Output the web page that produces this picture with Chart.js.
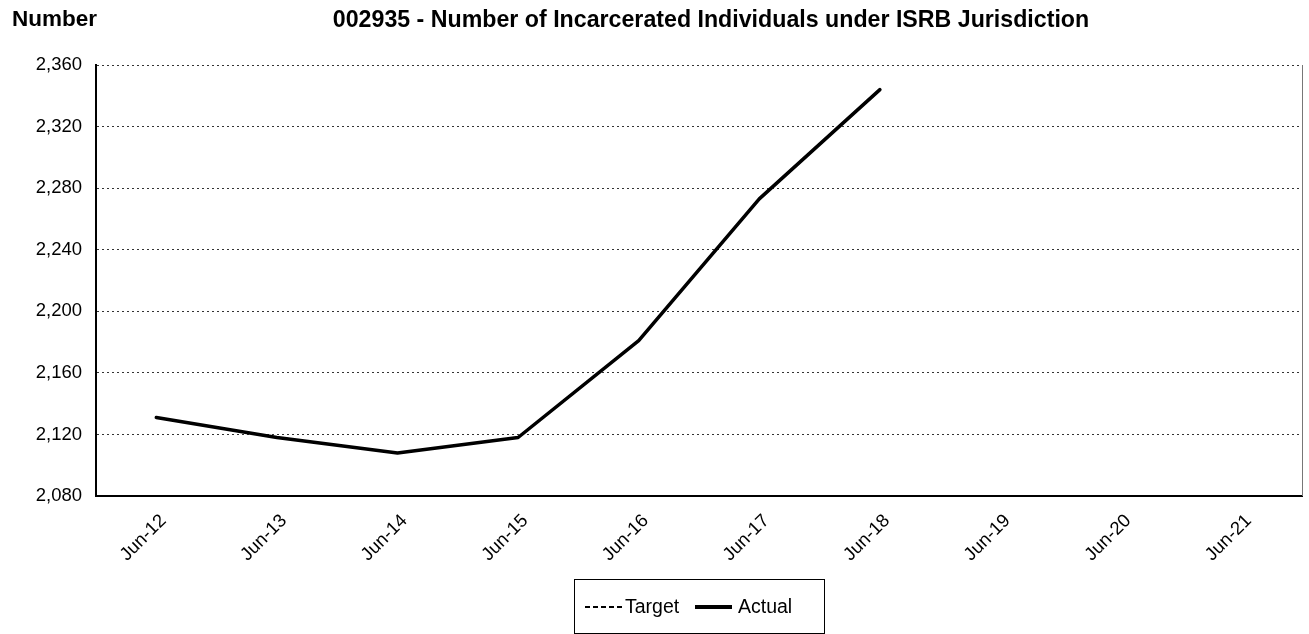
<!DOCTYPE html>
<html>
<head>
<meta charset="utf-8">
<script src="https://cdn.jsdelivr.net/npm/chart.js@4"></script>
<style>
  html, body { margin:0; padding:0; background:#fff; }
  #wrap { position:relative; width:1309px; height:634px; font-family:"Liberation Sans", Arial, sans-serif; }
  #c { position:absolute; left:0; top:0; }
  .t { position:absolute; font-weight:bold; font-size:22.5px; color:#000; white-space:nowrap; }
  #legend { position:absolute; left:574px; top:579px; width:249px; height:53px; border:1px solid #000; box-sizing:content-box; font-size:19.5px; }
  .li { position:absolute; top:0; height:53px; line-height:53px; }
</style>
</head>
<body>
<div id="wrap">
  <canvas id="c" width="1309" height="634"></canvas>
  <div class="t" style="left:12px; top:6px;">Number</div>
  <div class="t" id="title" style="left:0; width:1422px; text-align:center; top:6px; font-size:23.2px;">002935 - Number of Incarcerated Individuals under ISRB Jurisdiction</div>
  <div id="legend">
    <svg style="position:absolute;left:10px;top:25px" width="40" height="4"><line x1="0" y1="2" x2="38" y2="2" stroke="#000" stroke-width="2" stroke-dasharray="5,3"/></svg>
    <span class="li" style="left:50px">Target</span>
    <svg style="position:absolute;left:120px;top:24px" width="40" height="6"><line x1="0" y1="3" x2="37" y2="3" stroke="#000" stroke-width="4"/></svg>
    <span class="li" style="left:163px">Actual</span>
  </div>
</div>
<script>
const categories = ["Jun-12","Jun-13","Jun-14","Jun-15","Jun-16","Jun-17","Jun-18","Jun-19","Jun-20","Jun-21"];
const targetValues = [null,null,null,null,null,null,null,null,null,null];
const actualValues = [2131,2118,2108,2118,2181,2273,2344,null,null,null];
const yMin = 2080, yMax = 2360, yStep = 40;

const frame = {
  id:'frame',
  afterDraw(chart){
    const {ctx, chartArea:a} = chart;
    ctx.save();
    ctx.strokeStyle = '#777';
    ctx.lineWidth = 1;
    ctx.beginPath();
    ctx.moveTo(a.right+0.5, a.top);
    ctx.lineTo(a.right+0.5, a.bottom);
    ctx.stroke();
    ctx.strokeStyle = '#000';
    ctx.lineWidth = 2;
    ctx.beginPath();
    ctx.moveTo(a.left, a.top);
    ctx.lineTo(a.left, a.bottom);
    ctx.stroke();
    ctx.restore();
  }
};

new Chart(document.getElementById('c'), {
  type:'line',
  data:{
    labels:categories,
    datasets:[
      {label:'Target', data:targetValues, borderColor:'#000', borderWidth:1.5, borderDash:[5,3], pointRadius:0, fill:false},
      {label:'Actual', data:actualValues, borderColor:'#000', borderWidth:3.5, pointRadius:0, fill:false, tension:0, borderCapStyle:'round', borderJoinStyle:'round'}
    ]
  },
  options:{
    responsive:false,
    animation:false,
    events:[],
    layout:{padding:{top:65, left:0, right:7, bottom:58}},
    plugins:{legend:{display:false}, title:{display:false}, tooltip:{enabled:false}},
    scales:{
      x:{
        offset:true,
        grid:{display:false, drawTicks:false},
        border:{display:true, color:'#000', width:2},
        ticks:{color:'#000', font:{family:'"Liberation Sans", Arial, sans-serif', size:18.5}, minRotation:45, maxRotation:45, padding:14, labelOffset:7},
        afterFit(s){ s.height = 80; }
      },
      y:{
        min:yMin, max:yMax,
        grid:{color:'#333', lineWidth:1, drawTicks:false},
        border:{display:true, color:'#000', width:2, dash:[2,3]},
        ticks:{stepSize:yStep, color:'#000', font:{family:'"Liberation Sans", Arial, sans-serif', size:18.5}, padding:14},
        afterFit(s){ s.width = 96; }
      }
    }
  },
  plugins:[frame]
});
</script>
</body>
</html>
